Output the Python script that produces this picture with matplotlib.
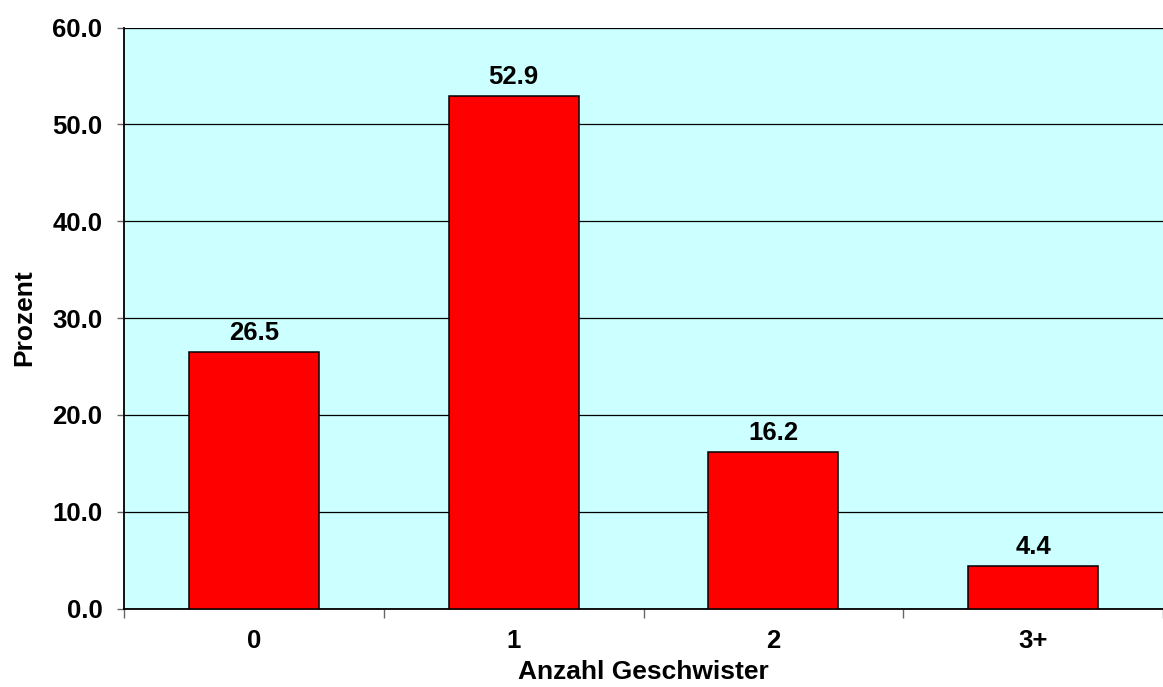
import matplotlib
matplotlib.use("Agg")
import matplotlib.pyplot as plt
import numpy as np

plt.rcParams['font.family'] = ['Liberation Sans', 'DejaVu Sans']
plt.rcParams['font.weight'] = 'bold'

categories = ["0", "1", "2", "3+"]
values = [26.5, 52.9, 16.2, 4.4]
ytick_values = [0, 10, 20, 30, 40, 50, 60]

TICK_FS = 18.5
TITLE_FS = 19

fig = plt.figure(figsize=(11.63, 6.87), dpi=100)
ax = fig.add_axes([124 / 1163, 1 - 608.5 / 687, 1 - 124 / 1163, (608.5 - 27.5) / 687])
ax.set_facecolor('#CCFFFF')

x = np.arange(len(categories))
ax.bar(x, values, width=0.5, color='#FF0000', edgecolor='black', linewidth=1.1, zorder=3)

for xi, v in zip(x, values):
    ax.annotate(f"{v:.1f}", xy=(xi, v), xytext=(0, 8.5), textcoords='offset points',
                ha='center', va='baseline', fontsize=TICK_FS, fontweight='bold', zorder=4)

ax.set_xlim(-0.5, len(categories) - 0.5)
ax.set_ylim(0, 60)
ax.set_yticks(ytick_values)
ax.set_yticklabels([f"{t:.1f}" for t in ytick_values], fontsize=TICK_FS, fontweight='bold')
ax.yaxis.grid(True, color='black', linewidth=0.9, zorder=1)
ax.set_axisbelow(True)

# category labels centred under bars, tick marks between categories
ax.set_xticks(x)
ax.set_xticklabels(categories, fontsize=TICK_FS, fontweight='bold')
ax.tick_params(axis='x', length=0, pad=15)
ax.set_xticks(np.arange(-0.5, len(categories) - 0.4, 1.0), minor=True)
ax.tick_params(axis='x', which='minor', length=6.5, color='#666666', width=1)
ax.tick_params(axis='y', length=5, color='#666666', width=1, pad=10.5)

for side in ['top', 'right']:
    ax.spines[side].set_visible(False)
ax.spines['left'].set_linewidth(1.3)
ax.spines['bottom'].set_linewidth(1.3)

ax.set_xlabel("Anzahl Geschwister", fontsize=TITLE_FS, fontweight='bold', labelpad=5)
ax.set_ylabel("Prozent", fontsize=TITLE_FS, fontweight='bold', labelpad=11.5)

fig.savefig("out.png", dpi=100)
